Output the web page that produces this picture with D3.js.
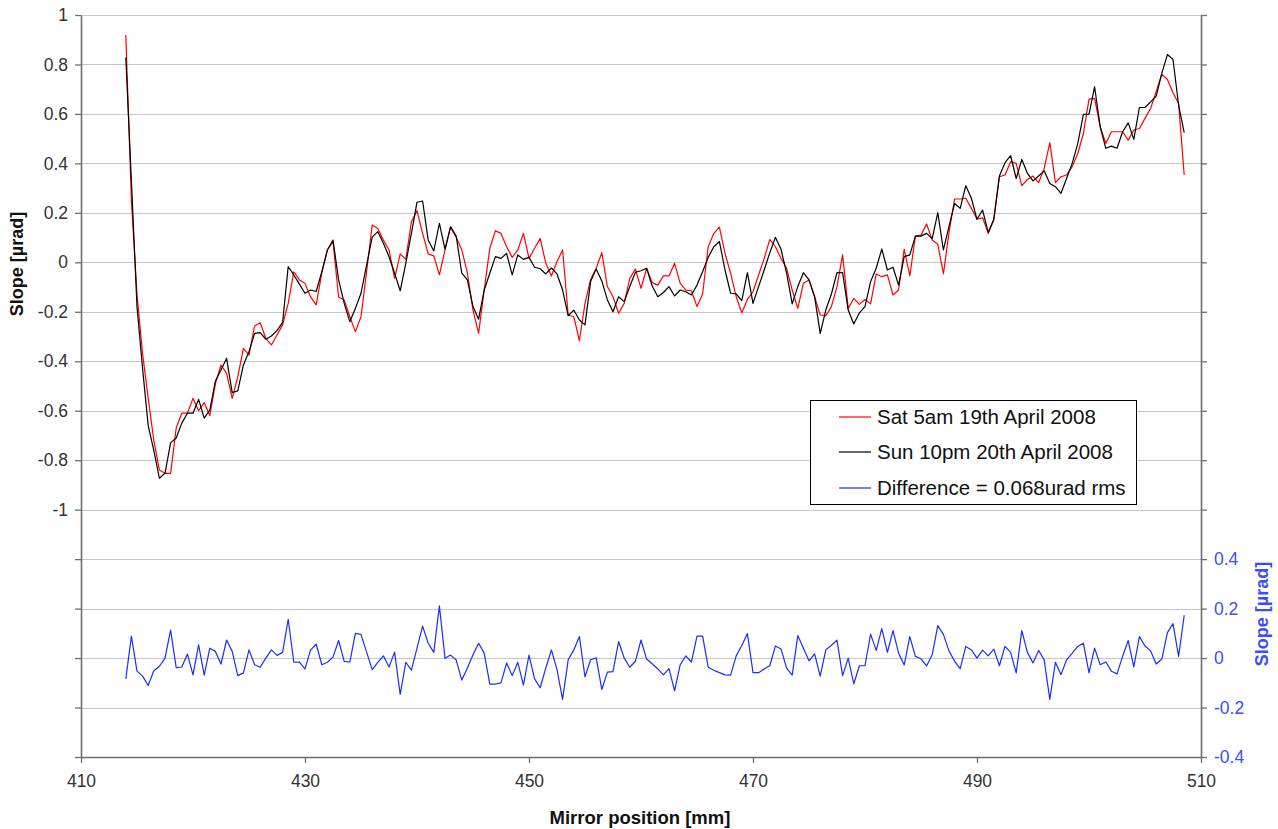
<!DOCTYPE html>
<html>
<head>
<meta charset="utf-8">
<script src="https://cdn.jsdelivr.net/npm/d3@7/dist/d3.min.js"></script>
<style>
  html, body { margin: 0; padding: 0; background: #fff; }
  svg { display: block; font-family: "Liberation Sans", Arial, sans-serif; }
</style>
</head>
<body>
<svg id="chart" width="1278" height="829"></svg>
<script>
// ---- Data ----
const positions = [
  414,414.5,415,415.5,416,416.5,417,417.5,418,418.5,419,419.5,420,420.5,421,421.5,422,422.5,423,423.5,
  424,424.5,425,425.5,426,426.5,427,427.5,428,428.5,429,429.5,430,430.5,431,431.5,432,432.5,433,433.5,
  434,434.5,435,435.5,436,436.5,437,437.5,438,438.5,439,439.5,440,440.5,441,441.5,442,442.5,443,443.5,
  444,444.5,445,445.5,446,446.5,447,447.5,448,448.5,449,449.5,450,450.5,451,451.5,452,452.5,453,453.5,
  454,454.5,455,455.5,456,456.5,457,457.5,458,458.5,459,459.5,460,460.5,461,461.5,462,462.5,463,463.5,
  464,464.5,465,465.5,466,466.5,467,467.5,468,468.5,469,469.5,470,470.5,471,471.5,472,472.5,473,473.5,
  474,474.5,475,475.5,476,476.5,477,477.5,478,478.5,479,479.5,480,480.5,481,481.5,482,482.5,483,483.5,
  484,484.5,485,485.5,486,486.5,487,487.5,488,488.5,489,489.5,490,490.5,491,491.5,492,492.5,493,493.5,
  494,494.5,495,495.5,496,496.5,497,497.5,498,498.5,499,499.5,500,500.5,501,501.5,502,502.5,503,503.5,
  504,504.5,505,505.5,506,506.5,507,507.5,508,508.5
];

const satValues = [
  0.919,0.25,-0.13,-0.37,-0.55,-0.72,-0.84,-0.853,-0.853,-0.67,-0.61,-0.61,-0.55,-0.60,-0.567,-0.62,-0.49,-0.415,-0.449,-0.55,
  -0.462,-0.348,-0.375,-0.257,-0.244,-0.307,-0.334,-0.294,-0.253,-0.166,-0.038,-0.071,-0.085,-0.14,-0.172,-0.044,0.05,0.084,-0.14,-0.152,
  -0.22,-0.28,-0.22,-0.038,0.151,0.137,0.09,0.05,-0.065,0.034,0.012,0.164,0.209,0.117,0.034,0.026,-0.051,0.05,0.142,0.101,
  0.05,-0.044,-0.193,-0.287,-0.112,0.057,0.128,0.117,0.063,0.02,0.05,0.117,0.016,0.057,0.097,-0.004,-0.055,0.003,0.05,-0.213,
  -0.22,-0.317,-0.166,-0.069,-0.024,0.039,-0.098,-0.139,-0.206,-0.166,-0.065,-0.027,-0.105,-0.024,-0.082,-0.092,-0.055,-0.055,-0.004,-0.085,
  -0.112,-0.115,-0.179,-0.128,0.063,0.117,0.142,0.036,-0.044,-0.139,-0.204,-0.15,-0.119,-0.051,0.016,0.093,0.063,0.016,-0.024,-0.112,
  -0.186,-0.085,-0.071,-0.139,-0.213,-0.216,-0.179,-0.098,0.03,-0.186,-0.146,-0.17,-0.15,-0.168,-0.047,-0.058,-0.051,-0.132,-0.112,0.053,
  -0.055,0.106,0.11,0.155,0.09,0.073,-0.047,0.12,0.256,0.256,0.259,0.218,0.175,0.18,0.117,0.171,0.346,0.353,0.407,0.4,
  0.31,0.335,0.349,0.322,0.38,0.484,0.322,0.346,0.353,0.387,0.44,0.521,0.66,0.663,0.548,0.481,0.528,0.528,0.528,0.494,
  0.535,0.541,0.582,0.622,0.69,0.761,0.739,0.686,0.642,0.353
];

const sunValues = [
  0.828,0.33,-0.18,-0.43,-0.66,-0.76,-0.873,-0.853,-0.73,-0.71,-0.65,-0.61,-0.61,-0.554,-0.63,-0.597,-0.48,-0.435,-0.388,-0.527,
  -0.52,-0.415,-0.361,-0.287,-0.284,-0.311,-0.298,-0.276,-0.243,-0.017,-0.051,-0.088,-0.125,-0.112,-0.118,-0.038,0.05,0.09,-0.07,-0.166,
  -0.24,-0.186,-0.125,-0.011,0.102,0.124,0.077,0.023,-0.044,-0.115,-0.004,0.117,0.243,0.248,0.09,0.046,0.158,0.053,0.144,0.106,
  -0.044,-0.071,-0.179,-0.23,-0.112,-0.044,0.023,0.016,0.036,-0.051,0.03,0.012,0.02,-0.02,-0.026,-0.047,-0.023,-0.047,-0.112,-0.216,
  -0.193,-0.233,-0.253,-0.078,-0.027,-0.075,-0.152,-0.2,-0.139,-0.159,-0.098,-0.04,-0.034,-0.024,-0.096,-0.139,-0.122,-0.098,-0.136,-0.112,
  -0.119,-0.132,-0.092,-0.038,0.02,0.063,0.084,-0.031,-0.125,-0.128,-0.155,-0.042,-0.166,-0.098,-0.031,0.039,0.101,0.053,-0.044,-0.168,
  -0.098,-0.042,-0.071,-0.139,-0.287,-0.193,-0.128,-0.042,-0.042,-0.193,-0.249,-0.204,-0.179,-0.078,-0.024,0.054,-0.031,-0.02,-0.092,0.023,
  0.03,0.106,0.106,0.117,0.096,0.201,0.05,0.145,0.238,0.218,0.31,0.259,0.174,0.211,0.121,0.174,0.349,0.403,0.431,0.339,
  0.416,0.36,0.329,0.349,0.37,0.319,0.306,0.279,0.339,0.4,0.481,0.598,0.598,0.71,0.548,0.461,0.47,0.461,0.528,0.564,
  0.497,0.626,0.626,0.649,0.672,0.764,0.84,0.82,0.636,0.524
];

const diffValues = [
  -0.084,0.089,-0.053,-0.073,-0.111,-0.051,-0.033,0.0,0.113,-0.039,-0.036,0.016,-0.068,0.053,-0.069,0.04,0.027,-0.024,0.073,0.027,
  -0.071,-0.06,0.033,-0.027,-0.037,0,0.033,0.011,0.023,0.157,-0.017,-0.016,-0.044,0.033,0.056,-0.027,-0.017,0.004,0.071,-0.013,
  -0.016,0.1,0.096,0.024,-0.047,-0.017,0.009,-0.036,0.024,-0.147,-0.017,-0.049,0.04,0.129,0.06,0.023,0.211,-0.001,0.012,-0.008,
  -0.089,-0.04,0.013,0.06,0.02,-0.105,-0.105,-0.1,-0.02,-0.071,-0.017,-0.109,0.012,-0.084,-0.12,-0.04,0.033,-0.047,-0.167,-0.007,
  0.033,0.087,-0.076,-0.007,0.001,-0.127,-0.057,-0.055,0.067,0,-0.037,-0.013,0.073,-0.004,-0.023,-0.044,-0.068,-0.043,-0.133,-0.027,
  0.009,-0.016,0.089,0.089,-0.037,-0.049,-0.059,-0.068,-0.069,0.009,0.051,0.099,-0.059,-0.059,-0.044,-0.031,0.049,0.037,-0.041,-0.069,
  0.091,0.04,-0.011,0.017,-0.073,0.033,0.052,0.072,-0.071,0,-0.104,-0.031,-0.031,0.097,0.031,0.119,0.023,0.111,0.02,-0.028,
  0.087,0.007,-0.003,-0.032,0.013,0.131,0.096,0.029,-0.013,-0.043,0.047,0.033,0,0.032,0.009,0.036,-0.031,0.047,0.023,-0.06,
  0.111,0.023,-0.02,0.031,-0.007,-0.167,-0.017,-0.067,-0.007,0.02,0.047,0.06,-0.06,0.04,-0.027,-0.016,-0.053,-0.064,0.007,0.071,
  -0.036,0.087,0.049,0.029,-0.024,-0.004,0.103,0.139,0.007,0.173
];

const xTicks = [410, 430, 450, 470, 490, 510];
const leftTicks = [-2,-1.8,-1.6,-1.4,-1.2,-1,-0.8,-0.6,-0.4,-0.2,0,0.2,0.4,0.6,0.8,1];
const leftLabelTicks = [-1,-0.8,-0.6,-0.4,-0.2,0,0.2,0.4,0.6,0.8,1];
const rightTicks = [-0.4,-0.2,0,0.2,0.4,0.6,0.8,1,1.2,1.4,1.6,1.8,2,2.2,2.4,2.6];
const rightLabelTicks = [-0.4,-0.2,0,0.2,0.4];
const legendLabels = ["Sat 5am 19th April 2008", "Sun 10pm 20th April 2008", "Difference = 0.068urad rms"];
const seriesColors = ["#ff0000", "#000000", "#1a2cff"];

(function () {
  // ---- Layout ----
  const pL = 81, pR = 1201, pT = 15, pB = 757;
  const svg = d3.select("#chart");

  const x = d3.scaleLinear().domain([410, 510]).range([pL, pR]);
  const yL = d3.scaleLinear().domain([-2, 1]).range([pB, pT]);
  const yR = d3.scaleLinear().domain([-0.4, 2.6]).range([pB, pT]);

  const fmt = v => String(+v.toFixed(1));
  const axisColor = "#6e6e6e";
  const isIn = (arr, v) => arr.some(t => Math.abs(t - v) < 1e-9);

  // gridlines
  svg.append("g").selectAll("line").data(leftTicks.filter(v => v > -2)).join("line")
    .attr("x1", pL).attr("x2", pR)
    .attr("y1", d => Math.round(yL(d)) + 0.5).attr("y2", d => Math.round(yL(d)) + 0.5)
    .attr("stroke", "#c6c6c6").attr("stroke-width", 1.2);

  // left axis
  const gL = svg.append("g").attr("transform", `translate(${pL},0)`)
    .call(d3.axisLeft(yL).tickValues(leftTicks).tickSize(6).tickSizeOuter(0).tickPadding(7)
      .tickFormat(v => isIn(leftLabelTicks, v) ? fmt(v) : ""));
  gL.select(".domain").attr("stroke", axisColor).attr("stroke-width", 1.6);
  gL.selectAll(".tick line").attr("stroke", axisColor).attr("stroke-width", 1.3);
  gL.selectAll(".tick text").attr("fill", "#333").style("font-size", "17.5px");

  // right axis
  const gR = svg.append("g").attr("transform", `translate(${pR},0)`)
    .call(d3.axisRight(yR).tickValues(rightTicks).tickSize(6).tickSizeOuter(0).tickPadding(7)
      .tickFormat(v => isIn(rightLabelTicks, v) ? fmt(v) : ""));
  gR.select(".domain").attr("stroke", axisColor).attr("stroke-width", 1.6);
  gR.selectAll(".tick line").attr("stroke", axisColor).attr("stroke-width", 1.3);
  gR.selectAll(".tick text").attr("fill", "#3a4cff").style("font-size", "17.5px");

  // bottom axis
  const gB = svg.append("g").attr("transform", `translate(0,${pB})`)
    .call(d3.axisBottom(x).tickValues(xTicks).tickSize(6).tickSizeOuter(0).tickPadding(12).tickFormat(d3.format("d")));
  gB.select(".domain").attr("stroke", axisColor).attr("stroke-width", 1.6);
  gB.selectAll(".tick line").attr("stroke", axisColor).attr("stroke-width", 1.3);
  gB.selectAll(".tick text").attr("fill", "#333").style("font-size", "17.5px");

  // series lines
  const lineL = d3.line().x((d, i) => x(positions[i])).y(d => yL(d));
  const lineR = d3.line().x((d, i) => x(positions[i])).y(d => yR(d));

  svg.append("path").attr("d", lineR(diffValues)).attr("fill", "none")
    .attr("stroke", seriesColors[2]).attr("stroke-width", 1.2).attr("stroke-linejoin", "round");
  svg.append("path").attr("d", lineL(satValues)).attr("fill", "none")
    .attr("stroke", seriesColors[0]).attr("stroke-width", 1.2).attr("stroke-linejoin", "round");
  svg.append("path").attr("d", lineL(sunValues)).attr("fill", "none")
    .attr("stroke", seriesColors[1]).attr("stroke-width", 1.2).attr("stroke-linejoin", "round");

  // axis titles
  svg.append("text").attr("transform", "translate(17,264) rotate(-90)")
    .attr("text-anchor", "middle").attr("dy", "0.35em")
    .style("font-size", "18px").style("font-weight", "bold").attr("fill", "#111")
    .text("Slope [µrad]");
  svg.append("text").attr("transform", "translate(1262,614) rotate(-90)")
    .attr("text-anchor", "middle").attr("dy", "0.35em")
    .style("font-size", "18px").style("font-weight", "bold").attr("fill", "#3a4cff")
    .text("Slope [µrad]");
  svg.append("text").attr("x", 640).attr("y", 824)
    .attr("text-anchor", "middle")
    .style("font-size", "18.5px").style("font-weight", "bold").attr("fill", "#111")
    .text("Mirror position [mm]");

  // legend
  const lg = svg.append("g");
  lg.append("rect").attr("x", 810.5).attr("y", 400.5).attr("width", 326).attr("height", 104)
    .attr("fill", "#fff").attr("stroke", "#000").attr("stroke-width", 1);
  const rowsY = [417, 452, 488];
  legendLabels.forEach((lab, i) => {
    lg.append("line").attr("x1", 839).attr("x2", 871).attr("y1", rowsY[i]).attr("y2", rowsY[i])
      .attr("stroke", seriesColors[i]).attr("stroke-width", 1.2);
    lg.append("text").attr("x", 877).attr("y", rowsY[i]).attr("dy", "0.35em")
      .style("font-size", "20.5px").attr("fill", "#111").text(lab);
  });
})();
</script>
</body>
</html>
